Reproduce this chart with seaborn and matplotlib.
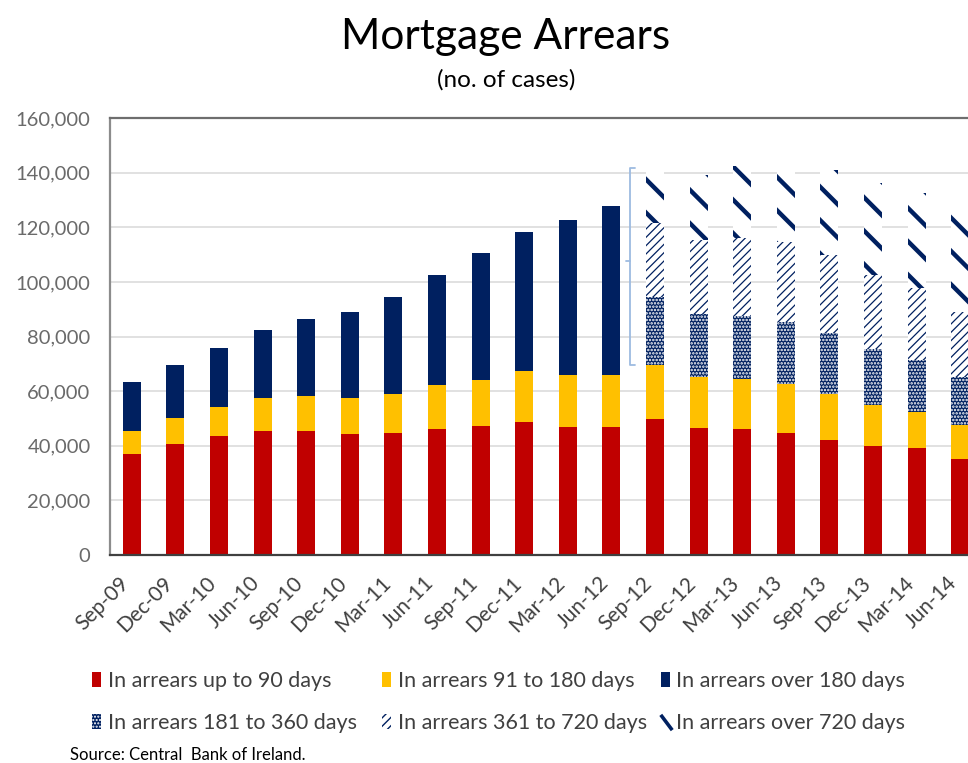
import matplotlib
matplotlib.use("Agg")
import matplotlib.pyplot as plt
import matplotlib.patches as mpatches
import matplotlib.lines as mlines
import matplotlib.path as mpath
import matplotlib.ticker as mticker
import matplotlib.transforms as mtrans
import numpy as np
import pandas as pd
import seaborn as sns

# ---------------- data (number of cases) ----------------
dates = ["Sep-09", "Dec-09", "Mar-10", "Jun-10", "Sep-10", "Dec-10", "Mar-11", "Jun-11",
         "Sep-11", "Dec-11", "Mar-12", "Jun-12", "Sep-12", "Dec-12", "Mar-13", "Jun-13",
         "Sep-13", "Dec-13", "Mar-14", "Jun-14"]
up_to_90 = [37000, 40600, 43600, 45500, 45500, 44400, 44700, 46300, 47200, 48700,
            47000, 47000, 49700, 46400, 46300, 44700, 42100, 39800, 39100, 35000]
d91_180 = [8500, 9700, 10500, 11900, 12700, 13200, 14300, 15900, 16900, 18600,
           18800, 18800, 20000, 18700, 18100, 17800, 16700, 15200, 13400, 12700]
over_180 = [18000, 19300, 21800, 25000, 28200, 31400, 35400, 40200, 46600, 51000,
            57000, 62100, 0, 0, 0, 0, 0, 0, 0, 0]
d181_360 = [0] * 12 + [24700, 23100, 23200, 22700, 22500, 20500, 18900, 17300]
d361_720 = [0] * 12 + [27000, 27100, 28400, 29500, 28500, 27000, 26200, 24100]
over_720 = [0] * 12 + [20200, 23800, 26400, 28100, 31200, 33800, 34800, 37000]

labels = ["In arrears up to 90 days", "In arrears 91 to 180 days", "In arrears over 180 days",
          "In arrears 181 to 360 days", "In arrears 361 to 720 days", "In arrears over 720 days"]
yticks = [0, 20000, 40000, 60000, 80000, 100000, 120000, 140000, 160000]

RED = "#C00000"
YEL = "#FFC000"
NAVY = "#002060"
FONT = ["Lato", "DejaVu Sans"]

sns.set_style("white")
plt.rcParams["font.family"] = FONT

df = pd.DataFrame({"date": dates, "a": up_to_90, "b": d91_180, "c": over_180,
                   "d": d181_360, "e": d361_720, "f": over_720})
df["cum_b"] = df["a"] + df["b"]
df["cum_d"] = df["cum_b"] + df["d"]
df["cum_e"] = df["cum_d"] + df["e"]
df["total"] = df["cum_e"] + df["f"] + df["c"]
early = df[df["c"] > 0]
late = df[df["c"] == 0]

W, H = 968, 763
fig = plt.figure(figsize=(W / 100, H / 100), dpi=100)
ax = fig.add_axes([110 / W, (H - 555) / H, 872 / W, (555 - 118) / H])

bw = 0.41
common = dict(x="date", order=dates, width=bw, errorbar=None, ax=ax, linewidth=0,
              saturation=1)

sns.barplot(data=early, y="total", color=NAVY, edgecolor=NAVY, **common)
with plt.rc_context({"hatch.linewidth": 3.2}):
    sns.barplot(data=late, y="total", color="white", facecolor="white",
                edgecolor=NAVY, hatch="\\", **common)
with plt.rc_context({"hatch.linewidth": 0.9}):
    sns.barplot(data=late, y="cum_e", color="white", facecolor="white",
                edgecolor=NAVY, hatch="////", **common)
with plt.rc_context({"hatch.linewidth": 1.2}):
    sns.barplot(data=late, y="cum_d", color=NAVY, facecolor=NAVY,
                edgecolor="white", hatch=".....", **common)
sns.barplot(data=df, y="cum_b", color=YEL, edgecolor=YEL, **common)
sns.barplot(data=df, y="a", color=RED, edgecolor=RED, **common)

ax.set_xlim(-0.5, len(dates) - 0.5)
ax.set_ylim(0, 160000)
ax.set_yticks(yticks)
ax.yaxis.set_major_formatter(mticker.StrMethodFormatter("{x:,.0f}"))
ax.set_xlabel("")
ax.set_ylabel("")
ax.grid(axis="y", color="#d9d9d9", linewidth=1.1)
ax.set_axisbelow(True)
ax.tick_params(axis="y", length=0, pad=14, labelsize=14.5, labelcolor="#6a6a6a")
ax.tick_params(axis="x", length=0, pad=18, labelsize=15, labelcolor="#404040")
shift = mtrans.ScaledTranslation(-6 / 100, 0, fig.dpi_scale_trans)
for lab in ax.get_xticklabels():
    lab.set_rotation(45)
    lab.set_ha("right")
    lab.set_va("center")
    lab.set_rotation_mode("anchor")
    lab.set_transform(lab.get_transform() + shift)
ax.spines["left"].set_color("#8c8c8c")
ax.spines["left"].set_linewidth(1.6)
ax.spines["top"].set_color("#6e6e6e")
ax.spines["top"].set_linewidth(1.6)
ax.spines["bottom"].set_color("#404040")
ax.spines["bottom"].set_linewidth(1.6)
ax.spines["right"].set_visible(False)

# bracket marking the new breakdown
i0 = dates.index("Sep-12")
bx = i0 - 0.5 - 0.07
yb = df["cum_b"].iloc[i0]
yt = df["total"].iloc[i0]
ax.plot([bx + 0.12, bx, bx, bx + 0.12], [yt, yt, yb, yb], color="#9dbbe0", lw=1.3,
        solid_joinstyle="round")
ax.plot([bx, bx - 0.1], [(yt + yb) / 2 + 2000, (yt + yb) / 2 + 2000], color="#9dbbe0", lw=1.3)

# titles
fig.text(506 / W, 1 - 37 / H, "Mortgage Arrears", ha="center", va="center",
         fontsize=30.5, color="black")
fig.text(506 / W, 1 - 80 / H, "(no. of cases)", ha="center", va="center",
         fontsize=17.5, color="black")

# legend: three columns
slash = mpath.Path([(-0.45, 0.6), (0.45, -0.6)], [mpath.Path.MOVETO, mpath.Path.LINETO])
h720 = mlines.Line2D([], [], linestyle="none", marker=slash, markersize=11,
                     markeredgewidth=2.6, color=NAVY)
with plt.rc_context({"hatch.linewidth": 0.9}):
    h361 = mpatches.Patch(facecolor="white", edgecolor=NAVY, hatch="////", linewidth=0)
with plt.rc_context({"hatch.linewidth": 1.2}):
    h181 = mpatches.Patch(facecolor=NAVY, edgecolor="white", hatch=".....", linewidth=0)
handles = [
    mpatches.Patch(facecolor=RED, edgecolor=RED, linewidth=0),
    mpatches.Patch(facecolor=YEL, edgecolor=YEL, linewidth=0),
    mpatches.Patch(facecolor=NAVY, edgecolor=NAVY, linewidth=0),
    h181, h361, h720,
]
col_x = [92, 382, 661]
for k in range(3):
    fig.legend([handles[k], handles[k + 3]], [labels[k], labels[k + 3]],
               loc="center left", bbox_to_anchor=(col_x[k] / W, 1 - 702 / H),
               frameon=False, borderpad=0, borderaxespad=0, fontsize=15.5,
               handlelength=0.42, handleheight=0.68, handletextpad=0.3,
               labelspacing=1.05, labelcolor="#404040")

fig.text(70 / W, 1 - 755 / H, "Source: Central  Bank of Ireland.", ha="left", va="center",
         fontsize=12, color="black")

fig.savefig("out.png", dpi=100)
